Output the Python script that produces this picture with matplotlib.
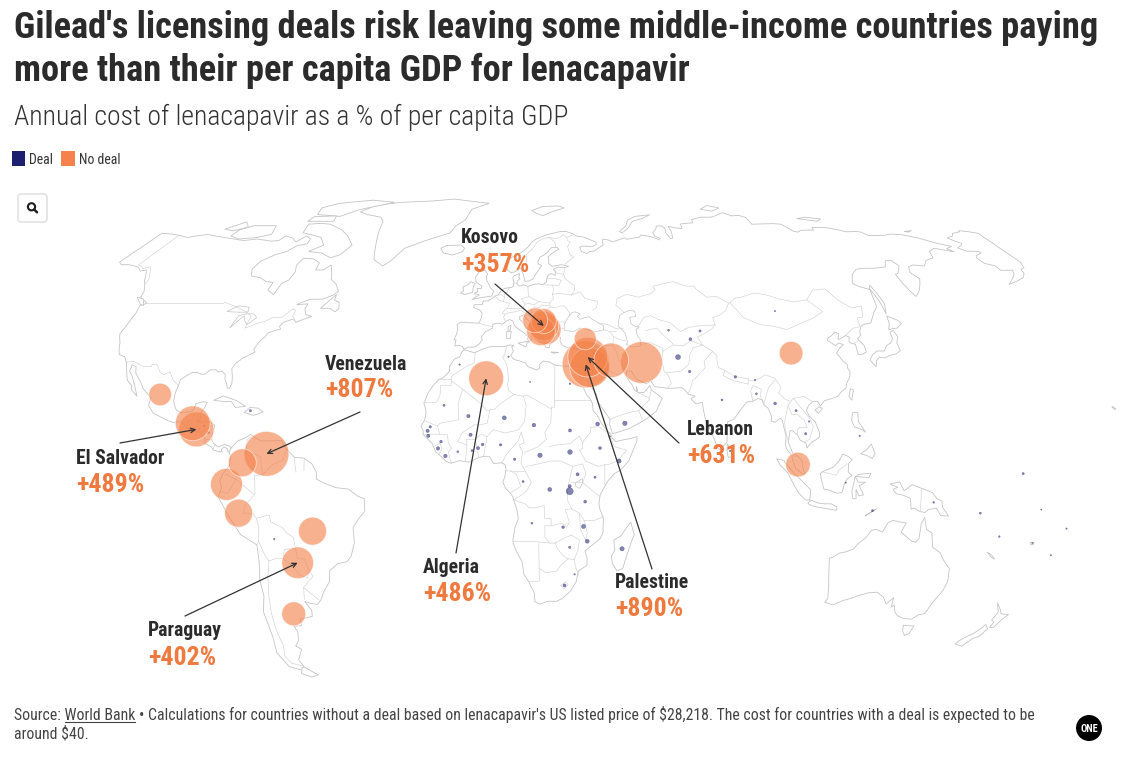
import numpy as np
import matplotlib
matplotlib.use('Agg')
import matplotlib.pyplot as plt
from matplotlib import font_manager
from matplotlib.patches import Rectangle, FancyBboxPatch, Circle

W, H = 1126, 758

# ------------------------------------------------------------------
# Data: countries without a licensing deal (annual cost, % of GDP pc)
# ------------------------------------------------------------------
nodeal_names = ['Mexico', 'Guatemala', 'El Salvador', 'Colombia', 'Ecuador', 'Peru',
                'Venezuela', 'Brazil', 'Paraguay', 'Argentina', 'Algeria',
                'Bosnia and Herzegovina', 'Serbia', 'Albania', 'North Macedonia',
                'Kosovo', 'Turkey', 'Iraq', 'Iran', 'Jordan', 'Lebanon', 'Palestine',
                'China', 'Malaysia']
nodeal_lon = [-102.5, -90.3, -88.9, -73.5, -78.4, -75.0, -66.0, -52.0, -58.0, -63.5, 2.6,
              17.8, 20.8, 20.0, 21.7, 20.9, 35.2, 43.7, 53.7, 36.5, 35.9, 35.2, 104.0, 102.0]
nodeal_lat = [23.5, 15.5, 13.8, 4.5, -1.5, -9.5, 7.0, -14.5, -23.3, -37.5, 28.0,
              44.2, 44.0, 41.1, 41.6, 42.6, 39.0, 33.0, 32.4, 31.0, 33.9, 31.9, 35.0, 4.0]
nodeal_pct = [204, 486, 489, 314, 410, 314, 807, 314, 402, 230, 486,
              250, 250, 330, 366, 357, 194, 478, 700, 634, 631, 890, 224, 243]

# countries with a deal (cost of about $40 as % of GDP pc)
deal_names = ['Mauritania', 'Mali', 'Niger', 'Chad', 'Sudan', 'Senegal', 'Gambia',
              'Guinea-Bissau', 'Guinea', 'Sierra Leone', 'Liberia', "Cote d'Ivoire",
              'Burkina Faso', 'Ghana', 'Togo', 'Benin', 'Nigeria', 'Cameroon', 'CAR',
              'South Sudan', 'Ethiopia', 'Eritrea', 'Djibouti', 'Somalia', 'Kenya',
              'Uganda', 'Rwanda', 'Burundi', 'Tanzania', 'DR Congo', 'Congo', 'Angola',
              'Zambia', 'Malawi', 'Mozambique', 'Zimbabwe', 'Madagascar', 'Lesotho',
              'Eswatini', 'Morocco', 'Tunisia', 'Egypt', 'Libya', 'Syria', 'Yemen',
              'Afghanistan', 'Pakistan', 'India', 'Nepal', 'Bhutan', 'Bangladesh',
              'Sri Lanka', 'Myanmar', 'Laos', 'Cambodia', 'Vietnam', 'Philippines',
              'Indonesia', 'Timor-Leste', 'Mongolia', 'Uzbekistan', 'Kyrgyzstan',
              'Tajikistan', 'Papua New Guinea', 'Solomon Islands', 'Vanuatu', 'Fiji',
              'Samoa', 'Tonga', 'Tuvalu', 'Kiribati', 'Haiti', 'Honduras', 'Nicaragua',
              'Bolivia']
deal_lon = [-10.5, -2.5, 9.0, 18.5, 30.0, -14.5, -15.3, -15.0, -10.9, -11.8, -9.4, -5.5,
            -1.6, -1.0, 0.9, 2.3, 8.0, 12.5, 20.5, 30.0, 39.5, 38.8, 42.6, 45.5, 37.9,
            32.4, 29.9, 29.9, 34.8, 23.6, 15.2, 17.9, 27.8, 34.3, 35.5, 29.9, 46.7, 28.2,
            31.5, -6.5, 9.5, 30.0, 17.0, 38.5, 47.5, 66.0, 69.3, 79.0, 84.1, 90.4, 90.3,
            80.7, 96.0, 102.5, 104.9, 106.3, 122.0, 117.0, 125.8, 103.0, 64.0, 74.8,
            71.0, 145.0, 160.0, 167.0, 178.0, -172.0, -175.2, 179.2, 173.0, -72.5,
            -86.5, -85.0, -64.5]
deal_lat = [20.5, 17.5, 17.0, 15.0, 13.5, 14.5, 13.4, 12.0, 10.4, 8.5, 6.4, 7.6,
            12.3, 7.9, 8.6, 9.6, 9.5, 5.5, 6.6, 7.5, 8.6, 15.3, 11.8, 5.0, 0.5,
            1.3, -2.0, -3.4, -6.3, -2.9, -0.7, -12.3, -13.4, -13.2, -17.3, -19.0, -19.4, -29.6,
            -26.5, 31.8, 34.0, 26.5, 27.0, 35.0, 15.5, 33.9, 29.9, 22.0, 28.4, 27.5, 23.7,
            7.8, 21.0, 19.0, 12.6, 16.0, 12.0, -1.0, -8.8, 46.8, 41.4, 41.2,
            38.9, -6.5, -9.5, -16.0, -17.8, -13.8, -21.2, -8.5, 1.5, 19.0,
            14.8, 12.9, -16.7]
deal_pct = [2.0, 4.5, 6.5, 5.5, 4.0, 2.5, 4.5, 4.5, 3.0, 5.0, 5.0, 1.5,
            4.5, 1.8, 4.0, 3.0, 2.5, 2.5, 8.0, 9.0, 3.5, 6.0, 1.0, 7.0, 2.0,
            4.0, 4.0, 20.0, 3.5, 6.5, 1.8, 1.5, 3.0, 7.0, 6.5, 2.2, 7.5, 4.0,
            1.0, 1.0, 1.0, 1.2, 0.6, 9.0, 8.0, 10.0, 2.6, 1.6, 2.8, 1.0, 1.6,
            1.2, 3.4, 2.0, 2.2, 1.0, 1.0, 0.8, 2.0, 0.8, 1.6, 2.1,
            3.5, 1.3, 1.8, 1.2, 0.7, 0.9, 0.8, 0.6, 2.0, 2.4,
            1.2, 1.7, 1.1]

# call-outs
callout_country = ['Kosovo', 'Venezuela', 'El Salvador', 'Algeria', 'Paraguay', 'Lebanon', 'Palestine']
callout_value = ['+357%', '+807%', '+489%', '+486%', '+402%', '+631%', '+890%']

TITLE1 = "Gilead's licensing deals risk leaving some middle-income countries paying"
TITLE2 = "more than their per capita GDP for lenacapavir"
SUBTITLE = "Annual cost of lenacapavir as a % of per capita GDP"
FOOT1 = ("Source: World Bank \u2022 Calculations for countries without a deal based on "
         "lenacapavir's US listed price of $28,218. The cost for countries with a deal is expected to be")
FOOT2 = "around $40."

# ------------------------------------------------------------------
# Coarse world outlines (lon, lat)
# ------------------------------------------------------------------
north_america = [(-150, 70.4), (-145, 70.1), (-141, 69.7), (-136, 69.0), (-133, 69.5), (-129, 70.0),
    (-125, 69.5), (-120, 69.0), (-115, 68.5), (-110, 68.0), (-105, 68.5), (-98, 67.8), (-95, 68.0),
    (-94, 69.5), (-90, 68.8), (-87, 67.5), (-85, 69.5), (-82, 68.5), (-81.5, 67.0), (-85, 66.3),
    (-87, 64.5), (-90.5, 63.5), (-94, 61.5), (-94.5, 59.0), (-92.5, 57.0), (-88.5, 56.5), (-85, 55.3),
    (-82.2, 55.1), (-82.3, 52.9), (-79, 51.5), (-78.8, 54.8), (-77, 55.8), (-76.8, 58.3), (-78.3, 60.2),
    (-77.8, 62.4), (-73.5, 62.2), (-70, 61.0), (-69.4, 58.8), (-66.5, 58.8), (-64.6, 60.3), (-62, 57.5),
    (-61, 56.0), (-58, 54.5), (-55.8, 52.5), (-57, 51.4), (-60, 50.2), (-64.5, 50.2), (-67, 49.3),
    (-68.5, 48.6), (-64.5, 48.9), (-64.8, 47.5), (-63.5, 45.8), (-61, 45.3), (-63.5, 44.5), (-65.8, 43.6),
    (-67, 44.6), (-69, 44.0), (-70.3, 43.5), (-70.8, 42.5), (-70.0, 41.7), (-71.5, 41.4), (-73.8, 40.6),
    (-74.2, 39.5), (-75.1, 38.8), (-75.9, 37.2), (-76.3, 36.0), (-75.5, 35.3), (-77.0, 34.6), (-78.8, 33.7),
    (-80.7, 32.2), (-81.4, 30.7), (-80.4, 28.2), (-80.1, 26.5), (-80.5, 25.2), (-81.2, 25.3), (-81.8, 26.5),
    (-82.7, 27.8), (-83.0, 29.0), (-84.3, 30.0), (-85.5, 29.7), (-86.5, 30.4), (-88.5, 30.3), (-89.5, 29.2),
    (-90.8, 29.1), (-92.3, 29.6), (-94.0, 29.6), (-95.8, 28.6), (-97.2, 27.6), (-97.3, 26.0), (-97.7, 24.0),
    (-97.7, 21.8), (-97.2, 20.5), (-96.3, 19.2), (-94.8, 18.5), (-92.5, 18.6), (-91.0, 18.9), (-90.4, 20.5),
    (-90.3, 21.0), (-88.0, 21.5), (-86.8, 21.3), (-87.5, 19.5), (-88.3, 18.3), (-88.2, 16.5), (-88.9, 15.9),
    (-87.5, 15.8), (-85.7, 15.9), (-84.0, 15.5), (-83.2, 14.9), (-83.5, 12.9), (-83.7, 11.0), (-83.0, 10.0),
    (-81.5, 8.9), (-79.5, 9.6), (-77.9, 9.2), (-77.3, 8.6), (-77.5, 7.7), (-78.2, 7.5), (-78.4, 8.4),
    (-79.6, 8.9), (-80.4, 8.2), (-80.0, 7.5), (-81.2, 7.6), (-82.9, 8.1), (-83.7, 9.0), (-85.7, 9.9),
    (-85.8, 11.1), (-87.5, 12.9), (-88.8, 13.2), (-91.2, 13.9), (-92.2, 14.5), (-94.0, 16.0), (-96.5, 15.7),
    (-98.5, 16.3), (-101.5, 17.5), (-103.5, 18.3), (-105.5, 20.5), (-105.2, 22.5), (-106.5, 23.6),
    (-108.5, 25.2), (-109.5, 26.5), (-111.0, 28.0), (-112.5, 29.5), (-113.2, 31.2), (-114.8, 31.8),
    (-114.7, 30.0), (-113.5, 28.8), (-112.2, 27.0), (-111.0, 25.2), (-109.9, 23.0), (-112.1, 24.8),
    (-112.5, 26.0), (-114.5, 27.5), (-116.0, 30.5), (-117.1, 32.5), (-118.5, 34.0), (-120.6, 34.6),
    (-121.9, 36.5), (-122.5, 37.8), (-123.8, 39.5), (-124.4, 40.4), (-124.2, 42.0), (-124.0, 44.5),
    (-124.0, 46.3), (-124.7, 48.4), (-122.8, 49.0), (-124.5, 49.8), (-127.0, 50.8), (-127.8, 52.5),
    (-130.0, 54.5), (-131.5, 55.5), (-133.5, 57.3), (-135.5, 58.8), (-137.5, 58.5), (-139.8, 59.6),
    (-142.0, 60.0), (-145.0, 60.4), (-148.0, 60.4), (-150.0, 61.2)]
west_alaska = [(-150.0, 61.2), (-151.5, 59.5), (-153.5, 59.0), (-154.2, 57.8), (-156.5, 56.5),
    (-159.5, 55.7), (-162.5, 55.0), (-164.8, 54.5), (-161.5, 56.0), (-158.5, 57.5), (-157.2, 58.7),
    (-161.8, 58.7), (-162.0, 60.0), (-165.0, 60.8), (-165.4, 62.5), (-164.4, 63.2), (-161.0, 64.0),
    (-161.0, 64.5), (-166.0, 64.6), (-168.0, 65.6), (-164.5, 66.6), (-163.7, 67.1), (-165.5, 68.0),
    (-166.5, 68.9), (-163.0, 69.5), (-161.5, 70.3), (-157.0, 70.9), (-156.5, 71.3), (-153.0, 70.9),
    (-150.0, 70.4)]
greenland = [(-73, 78), (-68, 77), (-60, 76), (-57, 74.5), (-55, 71), (-53, 68), (-51, 65), (-49, 62),
    (-44, 60), (-42, 61.5), (-39, 65.5), (-32, 68), (-23, 70.5), (-22, 73), (-19, 75), (-19, 79),
    (-12, 81.5), (-20, 82.3), (-32, 83.5), (-45, 82.5), (-58, 82), (-65, 81.2), (-70, 80)]
baffin = [(-80, 73.5), (-72, 71.5), (-67, 69.5), (-62, 66.5), (-64, 63.5), (-67, 62.5), (-72, 64),
    (-78, 64.5), (-74, 66.5), (-78, 69), (-84, 70), (-88, 70.5), (-90, 73.5), (-85, 73.8)]
victoria_isl = [(-118, 71.5), (-114, 73), (-104, 73), (-101, 70), (-106, 69), (-113, 68.5), (-118, 69.5)]
ellesmere = [(-92, 77), (-80, 76.3), (-75, 78.8), (-62, 82), (-75, 83), (-90, 81.5), (-95, 79.5)]
devon_isl = [(-92, 74.5), (-80, 74.5), (-82, 76.5), (-92, 76.2)]
banks_isl = [(-125, 71.8), (-120, 74.3), (-116, 72.6), (-120, 71.2)]
newfoundland = [(-59.3, 47.6), (-55.9, 51.6), (-55.5, 49.9), (-53.5, 49.3), (-52.7, 47.5), (-53.5, 46.6), (-56.0, 47.6)]
iceland = [(-22, 64), (-24, 65.5), (-22, 66.4), (-16, 66.5), (-14, 65.5), (-14.5, 64.4), (-18, 63.4)]
cuba = [(-84.9, 21.9), (-82, 23.1), (-77.5, 21.8), (-74.2, 20.2), (-77.5, 19.9), (-79, 21.5), (-82, 21.6)]
hispaniola = [(-74.4, 18.5), (-72.8, 19.9), (-70, 19.7), (-68.3, 18.6), (-71.3, 17.7)]
vancouver = [(-128.3, 50.8), (-125.5, 50.3), (-123.4, 48.4), (-125.0, 48.8)]
hawaii = [(-155.9, 19.9), (-155.1, 19.3), (-154.8, 19.5), (-155.8, 20.2)]
south_america = [(-77.3, 8.6), (-75.5, 10.5), (-73, 11.5), (-71.5, 12.4), (-70, 11.5), (-68, 10.6),
    (-64, 10.6), (-61.5, 10.7), (-60, 8.5), (-57, 6), (-54, 5.8), (-51.5, 4.2), (-50, 1.8), (-50, 0),
    (-48, -1), (-44, -2.4), (-40, -2.8), (-37, -4.8), (-35, -5.5), (-35, -9), (-37, -11), (-39, -13.5),
    (-39, -17.7), (-40.5, -21.5), (-42, -23), (-45, -23.5), (-48, -25.5), (-48.7, -28.5), (-51, -31),
    (-53, -33.7), (-54.5, -34.9), (-57, -34.5), (-58.5, -34), (-57, -36.5), (-57.5, -38.2), (-62, -39),
    (-62.3, -40.8), (-65, -41), (-64.5, -42.5), (-65.5, -45), (-67.5, -46.5), (-66, -47.5), (-69, -50.5),
    (-68.5, -52.5), (-70, -53.5), (-74, -52.5), (-75.5, -48.5), (-74, -44), (-73.5, -40), (-73.5, -37),
    (-71.5, -32.5), (-71.4, -28), (-70.4, -23), (-70.3, -18.3), (-75, -15.5), (-78.5, -10), (-80, -7),
    (-81.2, -5), (-80, -2.5), (-80.5, -0.5), (-79.5, 1.5), (-77.5, 3.8), (-77.3, 6.5), (-77.9, 7.3)]
tierra_del_fuego = [(-68.5, -52.6), (-65, -54.9), (-68, -55.5), (-71, -54.5), (-69.5, -52.8)]
eurasia = [(-5.6, 36.0), (-6.3, 36.8), (-7.4, 37.2), (-8.9, 37.0), (-8.8, 38.7), (-9.5, 38.8), (-8.9, 40.2),
    (-8.8, 42.0), (-9.3, 43.0), (-8.0, 43.7), (-5.0, 43.5), (-1.8, 43.4), (-1.2, 44.7), (-1.2, 46.2),
    (-2.2, 47.1), (-4.5, 47.8), (-4.6, 48.6), (-1.6, 48.7), (-1.4, 49.7), (0.2, 49.7), (1.6, 50.4), (2.5, 51.1),
    (3.6, 51.5), (4.6, 52.9), (5.9, 53.4), (8.0, 53.6), (8.9, 54.0), (8.6, 55.4), (8.1, 56.6), (8.6, 57.1),
    (10.6, 57.7), (10.3, 56.6), (10.9, 56.3), (10.0, 55.5), (9.9, 54.8), (11.0, 54.0), (12.5, 54.4),
    (14.2, 53.9), (16.5, 54.5), (18.5, 54.7), (19.6, 54.4), (21.1, 55.2), (21.1, 56.1), (21.5, 57.2),
    (22.6, 57.7), (24.3, 57.2), (24.4, 58.3), (23.5, 59.0), (24.8, 59.5), (28.0, 59.5), (29.5, 59.9),
    (26.5, 60.4), (22.9, 59.9), (21.4, 60.8), (21.5, 61.7), (21.1, 62.8), (22.4, 63.8), (24.6, 64.9),
    (25.4, 65.1), (24.6, 65.8), (22.2, 65.7), (21.2, 64.7), (19.8, 63.6), (17.8, 62.7), (17.2, 61.3),
    (17.3, 60.7), (18.8, 60.1), (18.1, 59.3), (16.4, 57.0), (15.9, 56.1), (14.4, 55.5), (12.9, 55.4),
    (12.6, 56.2), (11.9, 57.6), (11.1, 58.9), (10.4, 59.5), (9.9, 59.0), (8.4, 58.2), (7.0, 58.0),
    (5.6, 58.8), (5.0, 60.0), (5.0, 61.5), (5.4, 62.3), (7.0, 62.9), (8.5, 63.5), (10.5, 64.5), (12.5, 66.0),
    (13.6, 67.5), (15.4, 68.5), (17.5, 69.2), (19.5, 69.8), (21.5, 70.2), (23.5, 70.6), (25.9, 71.0),
    (28.2, 71.0), (31.0, 70.3), (33.0, 69.4), (36.0, 69.1), (41.0, 67.5), (41.2, 66.8), (39.5, 66.1),
    (35.0, 66.2), (34.0, 65.8), (34.7, 64.5), (37.0, 63.8), (38.0, 64.5), (40.0, 64.6), (43.0, 66.1),
    (44.0, 66.6), (43.8, 67.8), (44.2, 68.5), (46.3, 68.2), (48.0, 67.6), (50.0, 68.0), (53.7, 68.9),
    (54.5, 68.4), (58.0, 68.9), (60.0, 69.0), (61.0, 69.8), (64.5, 69.4), (67.5, 68.6), (68.2, 68.2),
    (69.0, 68.6), (66.9, 69.5), (66.7, 70.7), (68.6, 71.9), (69.3, 72.9), (71.5, 72.9), (72.8, 72.2),
    (72.3, 70.5), (73.5, 68.6), (74.5, 68.8), (75.0, 71.0), (74.6, 72.8), (77.7, 72.2), (80.5, 72.0),
    (80.7, 73.6), (86.8, 74.0), (87.0, 75.1), (92.0, 76.0), (97.0, 76.0), (100.0, 76.6), (104.3, 77.7),
    (107.5, 76.5), (111.0, 76.7), (113.5, 75.9), (113.5, 73.5), (118.0, 73.6), (123.5, 73.7), (127.0, 73.5),
    (129.5, 71.0), (131.3, 70.8), (133.0, 71.4), (139.0, 71.5), (139.5, 72.4), (146.0, 72.3), (150.0, 71.6),
    (152.5, 70.9), (157.0, 71.0), (159.0, 70.8), (160.5, 69.6), (167.0, 69.6), (170.5, 70.1), (175.5, 69.9),
    (180.5, 68.9), (186.0, 67.1), (190.3, 66.1), (187.0, 65.4), (188.5, 64.4), (182.0, 65.5), (178.5, 64.5),
    (177.0, 62.5), (173.0, 61.7), (170.0, 60.0), (166.0, 60.3), (163.5, 59.8), (162.0, 58.0), (163.5, 56.2),
    (162.0, 54.8), (160.0, 53.0), (158.5, 52.0), (156.7, 51.0), (156.0, 52.8), (155.5, 55.5), (155.7, 57.5),
    (157.0, 57.8), (160.0, 60.0), (159.0, 61.7), (156.5, 61.6), (154.2, 59.7), (149.0, 59.3), (145.0, 59.3),
    (142.0, 59.0), (139.0, 57.5), (136.5, 54.8), (138.0, 54.0), (141.5, 53.0), (140.5, 50.0), (140.0, 48.0),
    (138.0, 46.5), (135.0, 43.5), (132.0, 43.0), (131.0, 42.5), (129.7, 41.0), (129.5, 40.0), (128.0, 39.0),
    (129.4, 37.0), (129.3, 35.3), (127.5, 34.6), (126.3, 34.6), (126.6, 37.5), (125.4, 37.7), (124.7, 38.1),
    (125.3, 39.5), (124.3, 39.9), (122.0, 39.0), (121.2, 38.8), (122.2, 40.4), (121.0, 40.9), (119.5, 39.9),
    (118.0, 39.2), (117.5, 38.6), (118.8, 37.7), (119.7, 37.1), (121.0, 37.8), (122.5, 37.4), (120.7, 36.3),
    (119.2, 35.0), (120.5, 33.0), (121.8, 31.7), (121.5, 30.8), (122.0, 29.9), (121.5, 28.3), (120.0, 26.5),
    (119.5, 25.2), (118.0, 24.4), (116.5, 23.0), (114.2, 22.3), (112.0, 21.8), (110.5, 20.3), (109.8, 21.5),
    (108.3, 21.6), (106.7, 20.5), (105.8, 19.0), (106.6, 17.4), (108.2, 16.0), (109.3, 13.0), (109.2, 11.7),
    (108.0, 10.9), (106.7, 10.3), (105.0, 8.6), (104.8, 10.0), (103.0, 10.8), (102.3, 12.2), (100.9, 13.4),
    (100.0, 13.4), (99.2, 10.3), (100.4, 7.3), (101.2, 6.9), (102.2, 6.2), (103.4, 4.9), (103.4, 3.4),
    (104.2, 1.4), (103.5, 1.3), (101.3, 2.9), (100.3, 5.3), (100.2, 6.5), (98.6, 8.3), (98.3, 9.3),
    (98.6, 12.0), (97.7, 16.5), (97.2, 16.9), (95.4, 15.8), (94.2, 16.1), (94.5, 17.3), (93.6, 19.7),
    (92.3, 20.7), (92.0, 22.0), (90.6, 22.4), (88.9, 21.6), (86.9, 21.4), (85.0, 19.5), (82.3, 16.6),
    (80.3, 15.9), (80.0, 13.3), (79.8, 10.3), (78.3, 8.9), (77.5, 8.1), (76.6, 8.9), (75.7, 11.3),
    (74.6, 13.9), (73.4, 16.0), (72.8, 19.2), (72.6, 21.3), (70.5, 20.9), (69.0, 22.3), (70.4, 23.0),
    (68.3, 23.6), (67.2, 24.7), (66.4, 25.4), (62.0, 25.2), (57.4, 25.7), (56.4, 27.2), (54.7, 26.5),
    (51.5, 27.9), (50.1, 30.1), (48.6, 30.0), (48.4, 28.5), (49.3, 27.2), (50.2, 26.2), (50.8, 24.8),
    (51.6, 24.2), (51.6, 25.8), (52.0, 24.0), (54.0, 24.1), (56.0, 26.0), (56.3, 24.9), (57.8, 23.8),
    (59.8, 22.5), (58.5, 20.4), (57.7, 18.9), (55.3, 17.2), (52.2, 15.6), (49.0, 14.1), (45.6, 13.1),
    (43.5, 12.6), (42.6, 15.2), (42.8, 16.6), (41.2, 18.6), (39.1, 21.3), (38.5, 23.6), (36.6, 26.0),
    (35.0, 28.1), (34.6, 29.5), (34.3, 31.3), (34.9, 32.8), (35.5, 34.0), (35.9, 35.5), (36.2, 36.6),
    (35.0, 36.7), (34.0, 36.2), (32.5, 36.1), (30.6, 36.7), (29.0, 36.6), (27.4, 37.2), (26.6, 38.3),
    (26.7, 39.4), (26.2, 40.0), (26.0, 40.8), (24.0, 40.7), (22.9, 40.6), (22.6, 40.0), (23.3, 39.2),
    (22.8, 38.8), (24.0, 38.1), (23.0, 37.2), (23.0, 36.5), (22.4, 36.5), (21.7, 36.8), (21.2, 37.8),
    (21.7, 38.3), (20.8, 39.0), (20.0, 39.7), (19.4, 40.4), (19.5, 41.8), (18.5, 42.5), (17.0, 43.2),
    (15.2, 44.3), (14.0, 45.1), (13.6, 45.7), (12.3, 45.3), (12.3, 44.5), (13.6, 43.5), (14.7, 42.1),
    (16.1, 41.4), (18.5, 40.1), (17.0, 40.5), (16.6, 39.7), (17.1, 39.0), (16.0, 38.0), (15.6, 38.9),
    (15.7, 39.6), (14.8, 40.2), (14.0, 40.8), (12.5, 41.6), (11.1, 42.4), (10.5, 43.0), (10.0, 44.0),
    (8.7, 44.4), (7.5, 43.8), (6.5, 43.1), (4.8, 43.4), (3.1, 43.1), (3.2, 42.0), (0.9, 41.0), (-0.3, 39.5),
    (0.2, 38.7), (-0.7, 37.6), (-2.1, 36.7), (-4.4, 36.7)]
africa = [(32.3, 31.3), (29.9, 31.3), (25.2, 31.6), (23.0, 32.6), (21.0, 32.8), (20.0, 31.9), (20.0, 30.8),
    (19.0, 30.3), (16.0, 31.3), (15.2, 32.3), (13.0, 32.9), (11.5, 33.2), (10.2, 34.3), (11.0, 35.6),
    (10.3, 36.8), (11.1, 37.1), (9.7, 37.3), (8.0, 36.9), (5.0, 36.8), (3.0, 36.8), (0.0, 35.9), (-2.0, 35.1),
    (-5.3, 35.9), (-6.0, 35.7), (-6.8, 34.0), (-8.5, 33.3), (-9.8, 31.3), (-9.6, 29.9), (-11.5, 28.2),
    (-13.0, 27.5), (-14.5, 26.0), (-16.0, 23.8), (-17.0, 21.0), (-16.3, 19.5), (-16.1, 18.0), (-16.5, 16.2),
    (-17.5, 14.7), (-16.7, 13.5), (-16.7, 12.4), (-15.0, 11.0), (-13.7, 9.9), (-12.5, 7.5), (-11.4, 6.8),
    (-9.0, 4.8), (-7.5, 4.4), (-5.0, 5.1), (-2.0, 4.7), (1.0, 5.9), (2.7, 6.3), (4.5, 6.3), (5.9, 4.3),
    (7.0, 4.4), (8.5, 4.5), (9.6, 3.9), (9.8, 2.5), (9.4, 0.5), (8.8, -0.8), (9.6, -2.5), (11.1, -3.9),
    (12.0, -5.0), (12.3, -6.1), (13.2, -8.6), (13.6, -11.0), (12.5, -13.5), (11.8, -16.7), (11.8, -17.9),
    (13.0, -20.5), (14.5, -22.9), (15.0, -26.5), (16.5, -28.6), (18.2, -31.7), (18.3, -34.1), (20.0, -34.8),
    (22.5, -34.0), (25.5, -34.0), (27.5, -33.2), (30.0, -31.3), (32.0, -28.6), (32.6, -26.0), (33.0, -25.4),
    (35.5, -24.0), (35.5, -22.0), (34.8, -20.0), (36.5, -18.8), (39.5, -16.7), (40.5, -15.0), (40.6, -11.0),
    (39.3, -8.0), (39.2, -6.5), (39.5, -4.5), (41.0, -2.0), (42.0, -0.5), (44.0, 1.5), (46.0, 2.5),
    (48.5, 5.0), (50.0, 8.0), (51.2, 10.5), (51.3, 11.8), (49.5, 11.3), (47.0, 10.9), (44.5, 10.4),
    (43.3, 11.5), (42.8, 12.5), (41.5, 13.8), (40.0, 15.5), (38.5, 18.0), (37.4, 18.9), (37.2, 21.0),
    (36.5, 22.3), (35.5, 23.2), (34.0, 26.0), (32.6, 29.9), (33.5, 28.2), (34.3, 27.8), (34.9, 29.5),
    (34.3, 31.3)]
madagascar = [(49.3, -12.0), (50.5, -15.5), (49.8, -17.0), (48.0, -22.0), (47.1, -24.9), (45.2, -25.5),
    (43.7, -23.5), (43.3, -21.5), (44.4, -19.8), (44.0, -17.0), (46.3, -15.8), (48.0, -13.5)]
great_britain = [(-5.7, 50.1), (-3.0, 50.6), (1.3, 51.1), (1.7, 52.6), (0.3, 53.5), (-0.5, 54.5), (-1.6, 55.6),
    (-2.1, 57.1), (-1.8, 57.6), (-3.0, 58.6), (-5.0, 58.6), (-6.2, 56.8), (-5.6, 55.3), (-4.8, 54.8),
    (-3.0, 54.0), (-3.1, 53.3), (-4.6, 53.3), (-4.2, 52.5), (-5.3, 51.8), (-3.3, 51.5)]
ireland = [(-6.0, 52.2), (-6.2, 53.9), (-5.8, 54.8), (-7.5, 55.3), (-8.5, 54.3), (-10.0, 53.8), (-9.5, 52.6),
    (-10.4, 51.9), (-8.5, 51.6)]
sicily = [(12.4, 37.8), (15.6, 38.3), (15.1, 36.7)]
sardinia = [(8.4, 39.0), (9.6, 39.1), (9.8, 41.0), (8.2, 41.0)]
corsica = [(8.6, 41.4), (9.4, 41.4), (9.5, 42.8), (8.6, 42.4)]
crete = [(23.5, 35.3), (26.3, 35.2), (24.5, 35.0)]
cyprus = [(32.3, 34.7), (34.5, 35.6), (33.0, 35.3)]
novaya_zemlya = [(52.0, 71.0), (55.5, 73.0), (57.0, 75.0), (61.0, 76.3), (68.5, 76.9), (64.0, 75.5),
    (59.0, 74.5), (56.0, 72.0), (53.0, 70.5)]
svalbard = [(11.0, 78.5), (16.0, 80.0), (24.0, 80.3), (27.0, 79.5), (21.0, 78.0), (17.0, 76.6), (13.5, 77.5)]
severnaya = [(95.0, 79.0), (100.0, 80.5), (105.0, 79.5), (100.0, 78.3)]
new_siberia = [(137.0, 75.5), (142.0, 76.0), (148.0, 75.3), (145.0, 74.5)]
wrangel = [(178.5, 71.0), (182.5, 71.3), (180.0, 70.8)]
sri_lanka = [(79.8, 9.8), (81.8, 7.5), (81.2, 6.2), (80.0, 6.0), (79.7, 8.0)]
japan = [(129.7, 33.1), (131.0, 31.2), (131.9, 33.0), (133.0, 33.8), (135.1, 33.7), (136.8, 34.4),
    (139.0, 34.8), (140.9, 35.7), (140.8, 37.9), (142.0, 39.6), (141.4, 41.4), (140.0, 40.8), (139.9, 39.0),
    (138.6, 37.8), (136.9, 37.1), (135.5, 35.6), (133.0, 35.6), (131.0, 34.5)]
hokkaido = [(140.0, 41.5), (141.2, 41.8), (143.2, 42.0), (145.5, 43.3), (144.8, 44.2), (141.8, 45.4), (141.3, 43.3)]
sakhalin = [(142.0, 46.0), (143.5, 49.0), (143.2, 51.7), (142.6, 54.3), (141.7, 53.3), (142.2, 49.5)]
taiwan = [(120.1, 23.0), (121.0, 25.1), (121.9, 24.8), (120.8, 21.9)]
hainan = [(108.6, 19.2), (110.0, 20.1), (111.0, 19.6), (109.5, 18.2)]
luzon = [(120.6, 18.5), (122.2, 18.5), (122.0, 16.0), (124.0, 13.0), (123.0, 13.7), (120.6, 14.5), (119.9, 16.3)]
mindanao = [(121.9, 7.0), (124.0, 8.2), (125.5, 9.7), (126.5, 7.0), (125.5, 5.7), (124.0, 6.5)]
sumatra = [(95.3, 5.6), (97.5, 5.2), (100.3, 2.0), (103.7, -1.0), (106.0, -3.0), (105.8, -5.8), (104.5, -5.9),
    (102.3, -4.0), (100.9, -2.0), (98.7, 1.7), (96.4, 3.9)]
java = [(105.2, -6.8), (106.1, -5.9), (108.6, -6.7), (110.5, -6.9), (112.6, -6.9), (114.5, -7.8), (114.4, -8.7),
    (111.0, -8.2), (108.2, -7.8), (106.4, -7.4)]
borneo = [(109.0, 1.5), (109.6, 2.0), (111.4, 2.7), (113.0, 3.2), (115.0, 5.0), (116.2, 6.9), (117.7, 6.4),
    (119.2, 5.4), (118.0, 4.3), (117.8, 2.0), (119.0, 0.9), (117.5, 0.1), (116.5, -1.5), (116.0, -3.6),
    (114.5, -4.0), (111.5, -3.0), (110.2, -2.9), (109.4, -0.5)]
sulawesi = [(119.4, -5.5), (120.4, -5.5), (120.3, -2.9), (121.2, -4.7), (122.7, -4.4), (121.3, -1.9),
    (123.3, -0.9), (121.0, -0.9), (120.1, 0.5), (121.0, 1.3), (125.0, 1.6), (124.3, 0.4), (120.0, 0.7),
    (119.0, -3.5)]
new_guinea = [(131.0, -1.4), (134.0, -0.8), (135.5, -3.3), (138.0, -1.6), (141.0, -2.6), (144.5, -3.8),
    (146.0, -5.5), (147.5, -6.1), (148.0, -8.0), (150.0, -10.3), (147.5, -10.2), (146.0, -8.1),
    (143.5, -8.5), (142.5, -9.3), (141.0, -9.1), (139.0, -8.1), (138.0, -8.4), (137.6, -5.4), (135.2, -4.5),
    (133.0, -4.1), (132.0, -2.9), (133.5, -2.3)]
timor = [(123.5, -10.3), (127.0, -8.3), (125.2, -9.3)]
australia = [(113.6, -22.0), (114.2, -26.3), (115.0, -30.0), (115.7, -33.3), (115.0, -34.3), (118.0, -35.0),
    (121.0, -33.8), (124.0, -33.0), (126.0, -32.3), (129.0, -31.6), (131.5, -31.5), (134.0, -32.8),
    (135.7, -34.8), (137.5, -33.0), (137.8, -35.7), (138.5, -35.0), (139.7, -37.0), (141.0, -38.0),
    (143.5, -38.8), (146.3, -39.0), (148.0, -37.8), (150.0, -37.4), (151.3, -33.8), (153.0, -31.0),
    (153.6, -28.5), (153.0, -25.0), (150.5, -22.5), (149.0, -20.5), (146.3, -19.0), (145.3, -15.0),
    (143.5, -14.0), (142.5, -10.7), (141.6, -12.5), (141.5, -16.5), (140.5, -17.6), (139.3, -17.3),
    (137.0, -15.8), (135.5, -14.8), (136.8, -12.2), (135.0, -12.0), (132.5, -11.5), (131.0, -12.2),
    (129.5, -14.8), (127.5, -14.0), (126.0, -14.3), (124.5, -16.3), (122.2, -18.0), (121.0, -19.5),
    (118.5, -20.3), (116.7, -20.6), (114.6, -21.8)]
tasmania = [(144.6, -40.7), (148.3, -40.9), (148.0, -43.0), (146.8, -43.6), (145.2, -42.2)]
nz_north = [(172.7, -34.4), (174.5, -36.0), (175.9, -37.5), (178.5, -37.7), (177.0, -39.3), (176.0, -41.3),
    (174.6, -41.3), (175.0, -39.8), (173.8, -39.2), (174.6, -37.0)]
nz_south = [(172.7, -40.5), (174.3, -41.7), (173.0, -43.8), (171.2, -44.5), (169.3, -46.6), (166.5, -46.0),
    (167.0, -45.0), (168.5, -44.0), (170.6, -42.9), (172.0, -41.5)]
new_caledonia = [(164.0, -20.3), (165.5, -21.0), (167.0, -22.3), (165.8, -21.8)]
fiji_isl = [(177.3, -17.6), (178.6, -17.6), (178.4, -18.2), (177.4, -18.2)]

black_sea = [(28.0, 41.5), (29.0, 41.2), (31.3, 41.1), (33.5, 42.0), (35.5, 41.7), (38.4, 40.9), (41.5, 41.5),
    (41.7, 42.7), (40.0, 43.4), (38.0, 44.4), (36.7, 45.2), (35.4, 45.0), (33.5, 44.5), (32.6, 45.4),
    (33.6, 46.0), (31.8, 46.6), (30.7, 46.4), (29.6, 45.3), (28.7, 44.2), (28.0, 43.0)]
caspian = [(47.0, 44.0), (46.7, 42.5), (47.5, 42.0), (49.0, 40.5), (49.5, 38.0), (49.0, 37.5), (51.0, 36.7),
    (53.9, 37.0), (53.9, 38.9), (53.0, 40.0), (52.8, 41.5), (54.0, 42.3), (52.6, 42.5), (51.3, 43.2),
    (51.0, 45.0), (53.2, 45.3), (53.0, 46.8), (51.2, 47.0), (49.2, 46.4), (47.5, 45.6)]
lake_victoria = [(31.8, -1.0), (33.9, 0.1), (34.1, -1.0), (33.0, -2.6), (31.7, -1.9)]
lake_superior = [(-92.1, 46.7), (-89.0, 48.3), (-85.0, 47.9), (-84.5, 46.5), (-87.5, 46.5), (-90.5, 46.6)]
lake_michigan_huron = [(-87.8, 42.0), (-87.0, 45.5), (-84.8, 46.0), (-82.0, 46.0), (-80.3, 45.0),
    (-81.7, 43.5), (-82.5, 43.0), (-83.8, 44.0), (-85.0, 45.5), (-86.3, 44.0)]

LAND = [north_america, greenland, baffin, victoria_isl, ellesmere, devon_isl, banks_isl, newfoundland,
        iceland, cuba, hispaniola, vancouver, hawaii, south_america, tierra_del_fuego, eurasia, africa,
        madagascar, great_britain, ireland, sicily, sardinia, corsica, crete, cyprus, novaya_zemlya,
        svalbard, severnaya, new_siberia, wrangel, sri_lanka, japan, hokkaido, sakhalin, taiwan, hainan,
        luzon, mindanao, sumatra, java, borneo, sulawesi, new_guinea, timor, australia, tasmania,
        nz_north, nz_south, new_caledonia, fiji_isl]
LAKES = [black_sea, caspian, lake_victoria, lake_superior, lake_michigan_huron]

# country borders (coarse polylines)
BORDERS = [
    [(-123.3, 49.0), (-95.2, 49.0), (-94.8, 49.3), (-89.6, 48.0), (-84.8, 46.5), (-82.5, 45.3), (-82.5, 42.0),
     (-79.0, 43.3), (-76.5, 44.0), (-74.7, 45.0), (-71.5, 45.0), (-70.0, 46.5), (-69.2, 47.4), (-67.8, 47.1),
     (-67.8, 45.2), (-67.0, 44.8)],
    [(-141.0, 69.6), (-141.0, 60.3), (-139.0, 59.9), (-137.5, 59.2), (-135.5, 59.8), (-133.5, 58.5),
     (-130.5, 56.0), (-130.0, 54.7)],
    [(-117.1, 32.5), (-114.7, 32.7), (-111.0, 31.3), (-108.2, 31.3), (-108.2, 31.8), (-106.5, 31.8),
     (-104.5, 29.6), (-103.0, 29.0), (-101.4, 29.8), (-99.5, 27.5), (-97.2, 25.9)],
    [(-92.2, 14.5), (-92.0, 16.0), (-91.4, 16.1), (-90.4, 16.4), (-90.4, 17.8), (-89.1, 17.8), (-88.3, 18.5)],
    [(-89.1, 17.8), (-89.2, 15.9), (-88.2, 15.7)],
    [(-90.1, 13.7), (-89.6, 14.3), (-89.2, 14.6), (-88.5, 15.8)],
    [(-89.2, 14.4), (-87.8, 13.9), (-87.8, 13.4)],
    [(-87.3, 13.0), (-86.0, 13.9), (-85.0, 14.5), (-83.2, 15.0)],
    [(-85.7, 11.1), (-84.0, 10.9), (-83.7, 10.9)],
    [(-82.6, 9.6), (-82.9, 8.1)],
    [(-71.3, 11.8), (-72.4, 11.0), (-72.4, 8.0), (-70.0, 7.0), (-67.8, 6.2), (-67.5, 3.8), (-67.0, 1.2)],
    [(-60.7, 5.2), (-64.0, 4.0), (-67.0, 1.2), (-69.5, 1.0), (-69.5, -4.2), (-73.0, -7.5), (-73.5, -9.5),
     (-70.6, -9.5), (-69.5, -10.9), (-65.4, -10.0), (-65.0, -12.0), (-61.5, -13.5), (-60.2, -15.0),
     (-58.3, -16.3), (-58.0, -20.0), (-57.8, -22.1), (-55.7, -22.3), (-54.6, -25.5), (-53.8, -27.1),
     (-57.6, -30.2), (-53.5, -33.7)],
    [(-60.7, 5.2), (-59.8, 8.3)],
    [(-57.2, 5.9), (-56.5, 1.9)],
    [(-54.0, 5.7), (-54.0, 2.3)],
    [(-78.8, 1.4), (-75.3, -0.1), (-78.2, -4.0), (-80.3, -3.4)],
    [(-75.3, -0.1), (-70.0, -4.2)],
    [(-69.5, -10.9), (-69.0, -13.5), (-69.6, -17.3), (-70.3, -18.3)],
    [(-69.6, -17.3), (-68.2, -21.3), (-67.2, -22.8)],
    [(-67.2, -22.8), (-68.5, -27.0), (-70.0, -33.0), (-71.0, -37.5), (-71.7, -42.0), (-71.8, -46.5),
     (-73.3, -49.5), (-72.3, -51.5), (-68.5, -52.3)],
    [(-67.2, -22.8), (-64.3, -22.0), (-62.6, -22.2)],
    [(-62.6, -22.2), (-61.7, -19.6), (-59.1, -19.3), (-58.2, -19.8)],
    [(-62.6, -22.2), (-60.0, -24.0), (-58.0, -26.8), (-55.7, -27.4), (-54.6, -25.5)],
    [(-58.4, -33.5), (-57.6, -30.2)],
    [(-1.7, 35.0), (-1.8, 32.2), (-3.6, 31.6), (-8.7, 28.7), (-8.7, 27.7)],
    [(-13.2, 27.7), (-8.7, 27.7), (-8.7, 25.9), (-12.0, 26.0), (-12.0, 23.4), (-13.0, 21.3), (-17.0, 21.3)],
    [(-8.7, 27.3), (-4.8, 25.0), (1.2, 21.0), (3.3, 19.0), (4.3, 19.2), (5.8, 19.4), (7.5, 20.9), (11.9, 23.5)],
    [(8.6, 36.9), (8.2, 34.6), (7.5, 33.9), (9.0, 32.0), (9.5, 30.3)],
    [(9.5, 30.3), (10.0, 27.5), (9.7, 26.4), (10.0, 24.7), (11.9, 23.5)],
    [(11.9, 23.5), (15.0, 23.0), (16.0, 23.4), (24.0, 19.5), (24.0, 20.0), (25.0, 20.0)],
    [(25.0, 31.7), (25.0, 20.0)],
    [(25.0, 22.0), (36.9, 22.0)],
    [(-4.8, 25.0), (-6.0, 21.0), (-5.5, 16.5), (-11.5, 15.5), (-12.2, 14.7), (-16.5, 16.2)],
    [(4.3, 19.2), (3.6, 15.5), (1.0, 15.0), (-0.5, 15.1), (-2.0, 14.2), (-4.5, 12.7), (-5.5, 10.4)],
    [(-16.7, 12.4), (-13.7, 12.5), (-11.4, 12.4), (-12.2, 14.7)],
    [(-11.4, 12.4), (-9.0, 12.4), (-8.5, 10.0), (-7.5, 8.5), (-8.5, 7.5), (-7.5, 4.4)],
    [(-13.3, 9.0), (-11.2, 10.0), (-10.5, 8.3), (-11.5, 6.9)],
    [(-5.5, 10.4), (-2.7, 9.5), (-3.0, 5.1)],
    [(-2.7, 9.5), (-2.8, 11.0), (0.0, 11.0), (1.0, 12.0), (2.0, 12.5), (3.6, 11.7)],
    [(0.0, 11.0), (0.6, 8.0), (1.2, 6.1)],
    [(3.6, 11.7), (2.7, 6.3)],
    [(3.6, 11.7), (5.6, 13.8), (9.0, 12.8), (12.0, 13.3), (13.6, 13.7)],
    [(15.0, 23.0), (15.9, 20.4), (15.5, 16.0), (13.6, 13.7)],
    [(8.5, 4.5), (10.0, 7.0), (13.5, 10.5), (14.5, 13.0)],
    [(24.0, 19.5), (23.9, 15.7), (22.0, 13.0), (22.5, 11.0)],
    [(22.5, 11.0), (20.0, 9.0), (16.0, 7.5), (15.5, 7.5)],
    [(14.5, 13.0), (15.5, 10.0), (13.9, 9.5), (15.0, 7.5), (14.5, 4.5), (16.0, 2.0)],
    [(9.8, 2.3), (11.3, 2.2), (16.0, 2.0)],
    [(11.3, 2.2), (13.0, 1.3), (14.5, -2.0), (11.1, -3.9)],
    [(23.5, 9.0), (26.0, 9.5), (30.0, 9.8), (33.0, 12.0), (34.0, 10.0)],
    [(16.0, 3.5), (19.0, 4.0), (24.0, 5.0), (27.0, 5.0), (30.8, 3.5)],
    [(34.0, 10.0), (34.0, 8.5), (33.0, 8.0), (35.0, 5.0), (35.9, 4.6)],
    [(36.5, 14.3), (36.5, 13.0), (34.2, 10.5), (34.0, 10.0)],
    [(36.5, 14.3), (39.0, 14.6), (41.5, 13.2), (43.1, 12.7)],
    [(43.0, 11.5), (44.0, 9.0), (47.9, 8.0), (45.0, 5.0), (42.0, 4.0), (41.0, 4.0)],
    [(41.0, 4.0), (41.0, -1.6)],
    [(35.9, 4.6), (39.0, 3.5), (41.0, 4.0)],
    [(30.8, 3.5), (34.0, 4.2), (35.0, 1.5), (34.0, -1.0), (30.5, -1.0)],
    [(34.0, -1.0), (39.2, -4.7)],
    [(30.8, 3.5), (29.6, -1.3), (29.2, -3.3), (29.3, -6.0), (30.5, -8.3)],
    [(30.5, -8.3), (33.0, -9.5), (34.5, -11.5), (37.5, -11.6), (40.5, -10.5)],
    [(16.0, 2.0), (17.8, -1.0), (16.5, -3.0), (15.5, -4.0), (12.2, -5.8)],
    [(12.2, -5.8), (16.0, -7.0), (17.0, -8.0), (19.5, -8.0), (21.8, -7.3), (22.0, -11.0), (24.0, -11.0), (24.0, -13.0)],
    [(24.0, -13.0), (27.5, -12.3), (29.0, -13.4), (29.8, -12.0), (28.5, -8.5), (30.5, -8.3)],
    [(24.0, -13.0), (22.0, -13.0), (22.0, -16.2), (23.5, -17.8)],
    [(11.8, -17.3), (18.5, -17.4), (23.5, -17.8), (25.3, -17.8)],
    [(25.3, -17.8), (28.0, -16.5), (30.4, -15.6)],
    [(33.0, -9.5), (33.3, -14.0), (35.0, -17.0), (35.5, -15.0), (34.5, -11.5)],
    [(30.4, -15.6), (33.0, -17.0), (32.5, -20.0), (31.3, -22.4)],
    [(25.3, -17.8), (26.0, -19.5), (28.0, -21.5), (29.4, -22.2), (31.3, -22.4)],
    [(20.0, -18.0), (20.0, -22.0), (20.0, -24.8)],
    [(20.0, -24.8), (20.0, -28.4), (16.5, -28.6)],
    [(20.0, -24.8), (22.0, -26.0), (25.5, -25.7), (27.0, -24.0), (29.4, -22.2)],
    [(31.3, -22.4), (32.0, -25.0), (32.9, -26.8)],
    [(27.0, -29.6), (28.5, -28.6), (29.4, -29.4), (28.0, -30.6), (27.0, -29.6)],
    [(-1.8, 43.4), (0.7, 42.8), (3.2, 42.4)],
    [(2.5, 51.1), (4.2, 49.9), (5.9, 49.5), (8.2, 49.0), (7.6, 47.6), (6.8, 47.3), (6.0, 46.2), (7.0, 45.9),
     (6.6, 45.1), (7.5, 43.8)],
    [(7.2, 53.3), (6.8, 52.2), (6.0, 51.8), (6.0, 50.8), (5.9, 49.5)],
    [(3.4, 51.4), (5.0, 51.5), (6.0, 50.8)],
    [(8.6, 54.9), (9.9, 54.8)],
    [(14.2, 53.9), (14.6, 52.0), (15.0, 51.0)],
    [(15.0, 51.0), (12.2, 50.3), (13.8, 48.8), (13.0, 47.5), (10.5, 47.6), (9.6, 47.5), (7.6, 47.6)],
    [(7.0, 45.9), (8.5, 46.4), (10.5, 46.6), (12.5, 47.0), (13.7, 46.5), (13.6, 45.7)],
    [(13.8, 48.8), (15.0, 49.0), (17.0, 48.6), (18.8, 49.5)],
    [(17.0, 48.0), (16.1, 46.9)],
    [(17.2, 48.0), (18.8, 47.8), (20.0, 48.5), (22.2, 48.4)],
    [(16.1, 46.9), (16.5, 46.5), (17.3, 45.9), (18.9, 45.9), (20.3, 46.1), (21.0, 46.3), (22.9, 48.0)],
    [(15.0, 51.0), (16.5, 50.3), (18.8, 49.5), (22.6, 49.1)],
    [(19.6, 54.4), (23.5, 54.3), (23.9, 52.7), (23.5, 51.6), (24.0, 50.4), (22.6, 49.1)],
    [(21.1, 56.1), (24.0, 56.3), (26.6, 55.7)],
    [(23.5, 54.3), (25.8, 54.2), (26.6, 55.7)],
    [(24.3, 57.9), (26.0, 57.8), (27.5, 57.5)],
    [(28.0, 59.5), (27.5, 57.5), (28.2, 56.2)],
    [(28.2, 56.2), (31.8, 54.0), (31.5, 52.5), (30.5, 51.4)],
    [(23.5, 51.6), (26.0, 51.9), (30.5, 51.4)],
    [(30.5, 51.4), (33.8, 52.3), (35.5, 50.4), (38.0, 49.9), (40.0, 49.6), (39.5, 47.8), (38.2, 47.1)],
    [(22.6, 49.1), (22.9, 48.0), (24.9, 47.7), (26.6, 48.3), (28.2, 48.2), (29.2, 47.0), (30.0, 46.2), (29.6, 45.3)],
    [(20.3, 46.1), (21.4, 45.2), (22.4, 44.7), (22.7, 44.2)],
    [(22.7, 44.2), (25.5, 43.7), (28.6, 43.7)],
    [(22.7, 44.2), (23.0, 43.0), (22.4, 42.3), (23.0, 41.4), (25.0, 41.5), (26.2, 41.7), (28.0, 42.0)],
    [(26.2, 41.7), (26.0, 40.8)],
    [(13.6, 45.5), (15.5, 45.8), (16.5, 46.5)],
    [(15.8, 45.2), (17.5, 45.1), (19.0, 44.9), (19.4, 44.0), (18.5, 42.5)],
    [(19.0, 44.9), (19.5, 43.2), (20.0, 42.6), (21.6, 42.2), (22.4, 42.3)],
    [(19.5, 41.8), (20.5, 42.0), (20.5, 41.0), (21.0, 40.8), (20.0, 39.7)],
    [(21.0, 40.8), (23.0, 41.4)],
    [(11.5, 59.0), (12.5, 61.0), (12.2, 63.5), (14.5, 65.5), (16.0, 67.5), (18.0, 68.5), (20.5, 69.0)],
    [(24.1, 65.8), (23.5, 67.5), (21.0, 69.0), (20.5, 69.0)],
    [(21.0, 69.0), (23.0, 68.7), (25.5, 68.9), (27.0, 69.9), (28.5, 69.0), (30.8, 69.7)],
    [(28.5, 69.0), (29.0, 68.0), (30.0, 67.5), (29.0, 66.0), (30.0, 63.5), (31.5, 62.8), (28.0, 60.5)],
    [(39.9, 43.4), (42.0, 43.2), (44.0, 42.7), (46.0, 41.8), (48.5, 41.8)],
    [(41.5, 41.5), (43.5, 41.1), (46.0, 41.0)],
    [(43.5, 41.1), (44.8, 39.7), (44.5, 37.2), (42.4, 37.2), (40.0, 36.8), (37.0, 36.7), (36.2, 36.6)],
    [(44.8, 39.7), (46.5, 38.9), (48.0, 38.5), (48.9, 38.4)],
    [(42.4, 37.2), (41.2, 34.5), (39.0, 32.3)],
    [(39.0, 32.3), (37.0, 31.5), (38.0, 30.5), (36.0, 29.2), (35.0, 29.4)],
    [(36.0, 34.6), (35.6, 33.0)],
    [(35.6, 33.0), (35.9, 32.7), (39.0, 32.3)],
    [(35.6, 33.0), (35.5, 31.0), (35.0, 29.5)],
    [(39.0, 32.3), (44.7, 29.2), (46.5, 29.1), (48.0, 30.0)],
    [(44.5, 37.2), (45.5, 35.5), (46.2, 33.0), (47.8, 31.0), (48.6, 30.0)],
    [(42.8, 16.6), (45.0, 17.4), (49.0, 18.5), (52.0, 19.0), (53.1, 16.6)],
    [(52.0, 19.0), (55.6, 22.0), (55.2, 22.7), (52.0, 24.0)],
    [(55.6, 22.0), (56.0, 24.0), (56.4, 24.9)],
    [(49.2, 46.4), (47.6, 47.8), (46.5, 48.4), (47.2, 50.4), (50.8, 51.6), (55.0, 50.8), (60.0, 51.9),
     (61.5, 52.9), (61.0, 54.0), (65.0, 54.7), (69.0, 55.3), (73.5, 54.0), (76.5, 54.0), (77.0, 53.0),
     (80.0, 50.8), (83.5, 51.0), (87.3, 49.1)],
    [(87.3, 49.1), (85.5, 47.0), (82.5, 45.5), (80.2, 44.9), (80.5, 42.9)],
    [(80.5, 42.9), (79.0, 41.8), (76.0, 40.4), (73.5, 39.5), (74.9, 37.2)],
    [(52.8, 41.5), (56.0, 45.0), (58.5, 45.5), (61.0, 44.4), (65.0, 43.5), (68.0, 41.0), (70.5, 42.0),
     (73.0, 42.5), (80.5, 42.9)],
    [(56.0, 41.3), (60.0, 42.0), (62.0, 40.0), (65.0, 37.5)],
    [(53.9, 37.3), (57.0, 38.0), (61.0, 36.5), (61.2, 35.6)],
    [(61.2, 35.6), (65.0, 37.3), (68.0, 37.0), (71.0, 38.4), (74.9, 37.2), (71.5, 36.5), (70.0, 34.5),
     (69.3, 31.9), (66.5, 30.0), (61.7, 29.5), (60.9, 29.9), (60.5, 33.5), (61.2, 35.6)],
    [(61.7, 29.5), (62.5, 28.2), (63.0, 26.6), (61.6, 25.2)],
    [(77.8, 35.5), (74.5, 32.8), (74.6, 31.0), (71.0, 28.0), (70.0, 27.5), (69.5, 26.0), (68.2, 23.7)],
    [(87.8, 49.2), (90.0, 50.5), (92.0, 50.7), (98.0, 52.0), (102.0, 51.5), (106.0, 50.3), (111.0, 49.4),
     (116.0, 50.0), (119.9, 46.7), (116.0, 45.0), (111.0, 43.5), (105.0, 41.6), (100.0, 42.6), (96.0, 43.0),
     (91.0, 45.0), (87.8, 49.2)],
    [(116.0, 50.0), (120.0, 52.8), (125.0, 53.2), (127.5, 49.8), (131.0, 47.7), (134.8, 48.3), (133.0, 45.0),
     (131.0, 44.9), (130.6, 42.4)],
    [(130.6, 42.4), (128.0, 42.0), (124.4, 40.0)],
    [(126.2, 37.8), (128.4, 38.6)],
    [(74.9, 37.2), (77.8, 35.5), (79.0, 34.3), (78.8, 32.5), (79.0, 31.0), (81.0, 30.2), (84.0, 28.5),
     (88.0, 27.9), (88.8, 27.3), (91.6, 27.8), (94.0, 29.0), (97.0, 28.0), (98.5, 25.5), (97.5, 23.9),
     (99.5, 22.1), (101.1, 21.6), (102.1, 22.4), (105.5, 23.0), (108.0, 21.6)],
    [(81.0, 30.2), (80.1, 28.8), (83.3, 27.3), (88.0, 26.4), (88.2, 27.9)],
    [(88.9, 21.6), (88.5, 24.5), (89.5, 26.0), (92.0, 25.0), (91.5, 23.0), (92.3, 20.7)],
    [(92.3, 20.7), (93.3, 23.0), (94.5, 25.5), (97.0, 27.5)],
    [(100.1, 20.4), (98.5, 16.0), (98.5, 14.0), (99.2, 10.3)],
    [(100.1, 20.4), (101.0, 18.0), (102.9, 17.9), (104.8, 16.3), (105.5, 14.3), (103.0, 14.3), (102.3, 13.6),
     (102.3, 12.2)],
    [(102.1, 22.4), (104.0, 20.0), (106.5, 17.0), (107.5, 14.5), (106.0, 11.0), (104.5, 10.4)],
    [(100.1, 6.5), (102.1, 6.2)],
    [(100.1, 20.4), (101.1, 21.6)],
    [(109.6, 2.0), (112.0, 1.5), (114.0, 1.0), (115.0, 2.5), (117.5, 4.2)],
    [(141.0, -2.6), (141.0, -9.1)],
]

# ------------------------------------------------------------------
# Robinson projection, central meridian 30E
# ------------------------------------------------------------------
LON0 = 30.0
ROB_LAT = np.arange(0, 91, 5)
ROB_PLEN = [1.0, 0.9986, 0.9954, 0.99, 0.9822, 0.973, 0.96, 0.9427, 0.9216, 0.8962, 0.8679,
            0.835, 0.7986, 0.7597, 0.7186, 0.6732, 0.6213, 0.5722, 0.5322]
ROB_PDFE = [0.0, 0.062, 0.124, 0.186, 0.248, 0.31, 0.372, 0.434, 0.4958, 0.5571, 0.6176,
            0.6769, 0.7346, 0.7903, 0.8435, 0.8936, 0.9394, 0.9761, 1.0]


def robinson(lon, lat, east=False):
    lon = np.asarray(lon, dtype=float)
    lat = np.asarray(lat, dtype=float)
    rel = (lon - LON0 + 180.0) % 360.0 - 180.0
    if east:
        rel = np.where(rel <= -179.999, rel + 360.0, rel)
    a = np.abs(lat)
    x = rel * np.interp(a, ROB_LAT, ROB_PLEN)
    y = np.sign(lat) * 90.0 * np.interp(a, ROB_LAT, ROB_PDFE)
    return x, y


def pick_condensed():
    names = {f.name for f in font_manager.fontManager.ttflist}
    for n in ['Roboto Condensed', 'Liberation Sans Narrow', 'Noto Sans Condensed',
              'Open Sans Condensed', 'DejaVu Sans Condensed']:
        if n in names:
            return n
    return 'Roboto' if 'Roboto' in names else 'DejaVu Sans'


COND = pick_condensed()

DARK = '#2b2b2b'
ORANGE = '#f4824a'
ORANGE_TXT = '#ee7a40'
NAVY = '#1b1f6e'
COAST = '#c4c4c4'
BORDER = '#d2d2d2'

fig = plt.figure(figsize=(W / 100, H / 100), dpi=100)
fig.patch.set_facecolor('white')

# map axes in projected units, scaled to match the page layout
ax = fig.add_axes([0, 0, 1, 1])
ax.set_xlim(-570 / 3.17, (W - 570) / 3.17)
ax.set_ylim(-(H - 479) / (290 / 90), 479 / (290 / 90))
ax.axis('off')

for poly in LAND:
    lo, la = zip(*poly)
    x, y = robinson(lo, la)
    ax.fill(x, y, facecolor='white', edgecolor=COAST, linewidth=0.6, zorder=1)
lo, la = zip(*west_alaska)
x, y = robinson(lo, la, east=True)
ax.fill(x, y, facecolor='white', edgecolor=COAST, linewidth=0.6, zorder=1)
for poly in LAKES:
    lo, la = zip(*poly)
    x, y = robinson(lo, la)
    ax.fill(x, y, facecolor='white', edgecolor=COAST, linewidth=0.5, zorder=2)
for line in BORDERS:
    lo, la = zip(*line)
    x, y = robinson(lo, la)
    ax.plot(x, y, color=BORDER, linewidth=0.45, zorder=3)


def bubble_size(pct):
    r_px = 0.79 * np.sqrt(np.asarray(pct, dtype=float))
    return (2 * r_px * 0.72) ** 2


# deal countries
dx, dy = robinson(deal_lon, deal_lat)
ax.scatter(dx, dy, s=bubble_size(deal_pct), color=NAVY, alpha=0.55,
           edgecolors=NAVY, linewidths=0.3, zorder=5)

# no-deal countries, big ones first
order = np.argsort(nodeal_pct)[::-1]
nx, ny = robinson(np.array(nodeal_lon)[order], np.array(nodeal_lat)[order])
ax.scatter(nx, ny, s=bubble_size(np.array(nodeal_pct)[order]), color=ORANGE, alpha=0.62,
           edgecolors='white', linewidths=0.6, zorder=6)

# ------------------------------------------------------------------
# overlay in page pixels for text and decorations
# ------------------------------------------------------------------
ov = fig.add_axes([0, 0, 1, 1])
ov.set_xlim(0, W)
ov.set_ylim(H, 0)
ov.axis('off')
renderer = fig.canvas.get_renderer()


def text_width(s, size, **kw):
    t = ov.text(0, 0, s, fontsize=size, **kw)
    w = t.get_window_extent(renderer=renderer).width
    t.remove()
    return w


def fit_size(s, width, **kw):
    return 20 * width / text_width(s, 20, **kw)


head_kw = dict(family=[COND, 'DejaVu Sans'], fontstretch='condensed', fontweight='heavy')
ts = fit_size(TITLE1, 1082, **head_kw)
ov.text(14, 38, TITLE1, fontsize=ts, color=DARK, va='baseline', **head_kw)
ov.text(14, 81, TITLE2, fontsize=ts, color=DARK, va='baseline', **head_kw)

sub_kw = dict(family=[COND, 'DejaVu Sans'], fontstretch='condensed', fontweight='light')
ss = fit_size(SUBTITLE, 553, **sub_kw)
ov.text(14, 125, SUBTITLE, fontsize=ss, color='#333333', va='baseline', **sub_kw)

# legend
leg_kw = dict(family=[COND, 'DejaVu Sans'], fontstretch='condensed')
ov.add_patch(Rectangle((12, 151), 13, 15, facecolor=NAVY, edgecolor='none'))
ov.add_patch(Rectangle((61, 151), 14, 15, facecolor=ORANGE, edgecolor='none'))
ls = fit_size('Deal', 24, **leg_kw)
ov.text(29, 163.5, 'Deal', fontsize=ls, color='#333333', va='baseline', **leg_kw)
ov.text(79, 163.5, 'No deal', fontsize=ls, color='#333333', va='baseline', **leg_kw)

# zoom button
ov.add_patch(FancyBboxPatch((18, 194), 29, 28, boxstyle='round,pad=0,rounding_size=3',
                            facecolor='white', edgecolor='#dcdcdc', linewidth=1))
ov.add_patch(Circle((31.5, 206.8), 3.6, fill=False, edgecolor='#1e1e1e', linewidth=1.5))
ov.plot([34.2, 37.0], [209.5, 212.3], color='#1e1e1e', linewidth=1.8, solid_capstyle='round')

# call-outs
label_x = [461, 325, 76, 423, 148, 687, 615]
name_base = [243, 370, 464, 573, 636, 435, 588]
value_base = [272, 397, 492, 601, 665, 463, 616]
line_start = [(495, 284), (360, 412), (120, 443), (456, 553), (185, 616), (679, 443), (652, 569)]

name_kw = dict(family=[COND, 'DejaVu Sans'], fontstretch='condensed', fontweight='bold')
ns = fit_size('Venezuela', 82, **name_kw)
vs = fit_size('+807%', 68, **name_kw)
for i, cname in enumerate(callout_country):
    k = nodeal_names.index(cname)
    bx, by = robinson(nodeal_lon[k], nodeal_lat[k])
    ov.annotate('', xy=(float(bx), float(by)), xycoords=ax.transData,
                xytext=line_start[i], textcoords='data',
                arrowprops=dict(arrowstyle='->', color='#333333', lw=0.9,
                                shrinkA=0, shrinkB=0, mutation_scale=8))
    ov.text(label_x[i], name_base[i], cname, fontsize=ns, color=DARK, va='baseline', **name_kw)
    ov.text(label_x[i], value_base[i], callout_value[i], fontsize=vs, color=ORANGE_TXT,
            va='baseline', **name_kw)

# footer
foot_kw = dict(family=[COND, 'DejaVu Sans'], fontstretch='condensed')
fs = fit_size(FOOT1, 1015, **foot_kw)
ov.text(14, 720, FOOT1, fontsize=fs, color='#444444', va='baseline', **foot_kw)
ov.text(14, 738, FOOT2, fontsize=fs, color='#444444', va='baseline', **foot_kw)
x0 = 14 + text_width('Source: World Bank', fs, **foot_kw) - text_width('World Bank', fs, **foot_kw)
x1 = 14 + text_width('Source: World Bank', fs, **foot_kw)
ov.plot([x0, x1], [722, 722], color='#444444', linewidth=0.8)

# ONE logo
ov.add_patch(Circle((1089, 728), 13, facecolor='black', edgecolor='none'))
ov.text(1089, 728.5, 'ONE', fontsize=7.5, color='white', ha='center', va='center',
        family=[COND, 'DejaVu Sans'], fontstretch='condensed', fontweight='bold')

fig.savefig('out.png', dpi=100, facecolor='white')
